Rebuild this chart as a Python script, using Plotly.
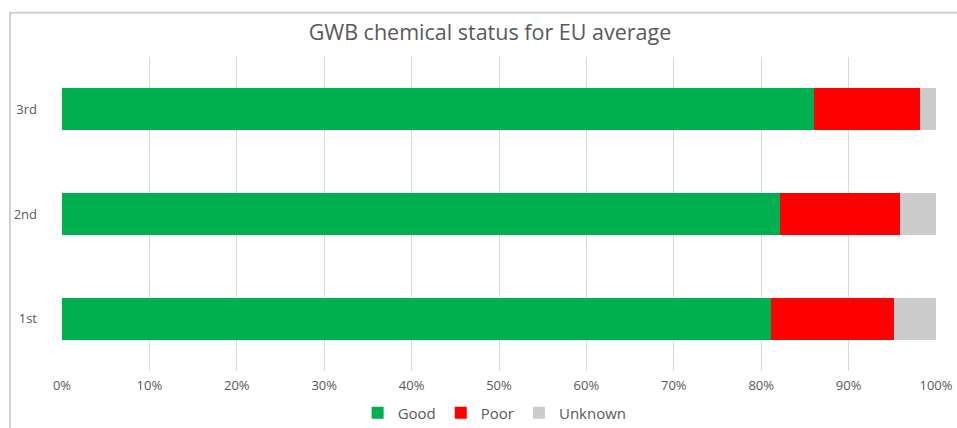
import plotly.graph_objects as go

categories = ["1st", "2nd", "3rd"]
good = [81.1, 82.1, 86.0]
poor = [14.1, 13.8, 12.2]
unknown = [4.8, 4.1, 1.8]
x_ticks = [0, 10, 20, 30, 40, 50, 60, 70, 80, 90, 100]
x_tick_labels = [f"{v}%" for v in x_ticks]

W, H = 957, 428
L, R, T, B = 62, 21, 56.5, 56.5
ph = H - T - B
pw = W - L - R

fig = go.Figure()
for name, vals, col in [("Good", good, "#00b050"), ("Poor", poor, "#ff0000"), ("Unknown", unknown, "#cccccc")]:
    fig.add_trace(go.Bar(y=categories, x=vals, name=name, orientation="h",
                         marker=dict(color=col, line=dict(width=0))))

fig.update_layout(
    width=W, height=H,
    barmode="stack", bargap=0.6,
    margin=dict(l=L, r=R, t=T, b=B, autoexpand=False),
    paper_bgcolor="white", plot_bgcolor="white",
    font=dict(family="Open Sans", color="#595959", size=12),
    title=dict(text="GWB chemical status for EU average", x=0.512, xanchor="center",
               y=1 - 32 / H, yanchor="middle", font=dict(size=21.5, color="#595959")),
    xaxis=dict(range=[0, 100], tickvals=x_ticks, ticktext=x_tick_labels, automargin=False,
               showgrid=True, gridcolor="#d9d9d9", gridwidth=1, zeroline=False,
               showline=False, ticks="", ticklabelstandoff=5,
               tickfont=dict(size=13, color="#595959")),
    yaxis=dict(showgrid=False, zeroline=False, showline=False, ticks="", automargin=False,
               ticklabelstandoff=24, tickfont=dict(size=13, color="#595959")),
    legend=dict(orientation="h", x=0.495, xanchor="center", yref="container",
                y=1 - 413 / H, yanchor="middle", itemwidth=30,
                font=dict(size=15, color="#595959"), traceorder="normal"),
    showlegend=True,
)

fig.add_shape(type="rect", xref="paper", yref="paper",
              x0=(10 - L) / pw, x1=(W + 5 - L) / pw,
              y0=(T + ph - (H + 5)) / ph, y1=(T + ph - 12) / ph,
              line=dict(color="#d0d0d0", width=2), fillcolor="rgba(0,0,0,0)", layer="below")

fig.write_html("out.html")
